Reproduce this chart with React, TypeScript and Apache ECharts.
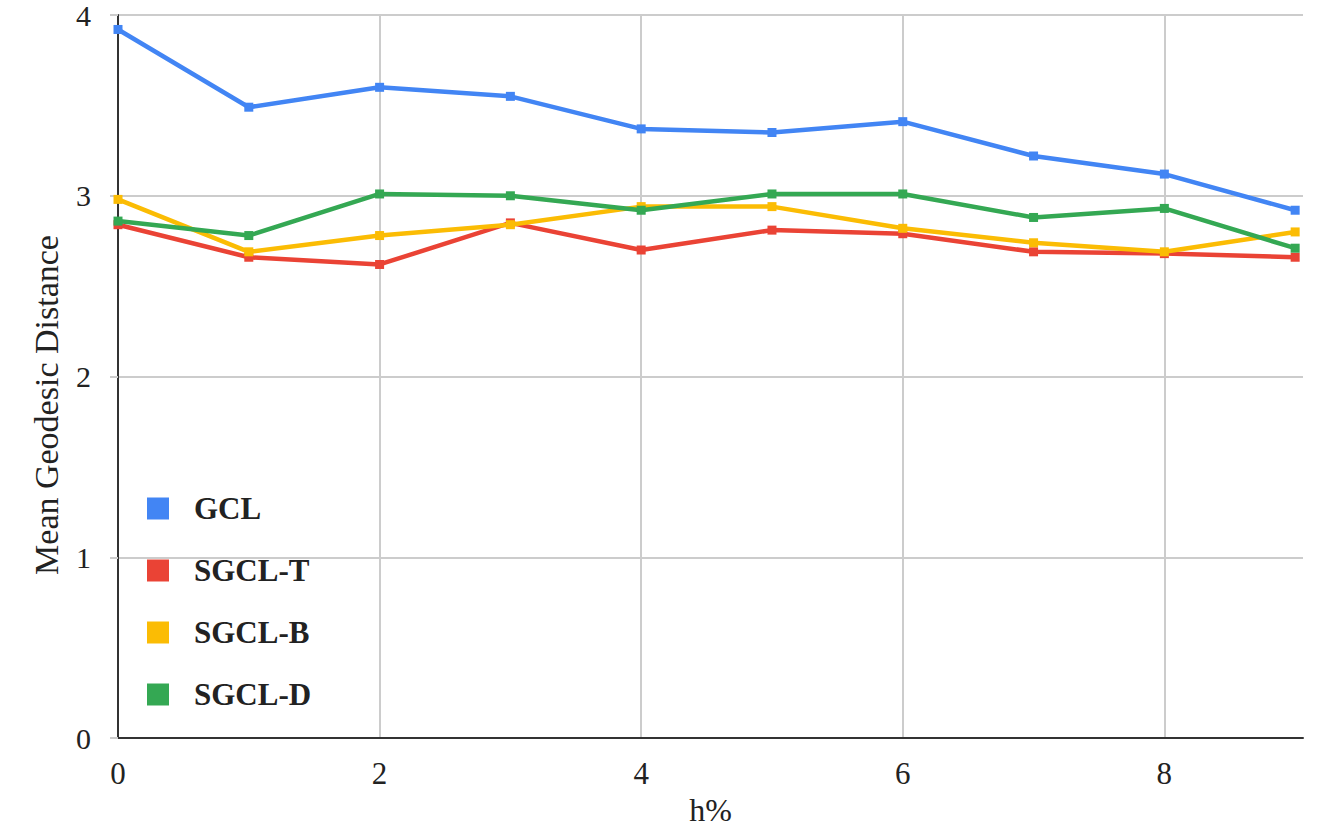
import React, { useEffect, useRef } from "react";
import * as echarts from "echarts";

const xValues = [0, 1, 2, 3, 4, 5, 6, 7, 8, 9];
const seriesNames = ["GCL", "SGCL-T", "SGCL-B", "SGCL-D"];
const gcl = [3.92, 3.49, 3.6, 3.55, 3.37, 3.35, 3.41, 3.22, 3.12, 2.92];
const sgclT = [2.84, 2.66, 2.62, 2.85, 2.7, 2.81, 2.79, 2.69, 2.68, 2.66];
const sgclB = [2.98, 2.69, 2.78, 2.84, 2.94, 2.94, 2.82, 2.74, 2.69, 2.8];
const sgclD = [2.86, 2.78, 3.01, 3.0, 2.92, 3.01, 3.01, 2.88, 2.93, 2.71];
const colors = ["#4285F4", "#EA4335", "#FBBC04", "#34A853"];
const yTitle = "Mean Geodesic Distance";
const xTitle = "h%";

const FONT = "Liberation Serif";

export default function App() {
  const ref = useRef<HTMLDivElement>(null);
  useEffect(() => {
    if (!ref.current) return;
    const chart = echarts.init(ref.current, undefined, { renderer: "svg" });
    const all = [gcl, sgclT, sgclB, sgclD];
    chart.setOption({
      animation: false,
      backgroundColor: "#ffffff",
      color: colors,
      textStyle: { fontFamily: FONT },
      grid: { left: 118, right: 25, top: 15, bottom: 91, containLabel: false },
      legend: {
        orient: "vertical",
        left: 142,
        top: 488,
        icon: "rect",
        itemWidth: 22,
        itemHeight: 22,
        itemGap: 31,
        data: seriesNames,
        textStyle: {
          fontFamily: FONT,
          fontSize: 31,
          fontWeight: "bold",
          color: "#222",
          padding: [0, 0, 0, 20],
          lineHeight: 22,
        },
      },
      xAxis: {
        type: "value",
        min: 0,
        max: 9.06,
        interval: 2,
        name: xTitle,
        nameLocation: "middle",
        nameGap: 48,
        nameTextStyle: { fontFamily: FONT, fontSize: 32, color: "#222" },
        axisLine: { show: true, onZero: false, lineStyle: { color: "#333", width: 2 } },
        axisTick: { show: false },
        axisLabel: {
          showMaxLabel: false,
          margin: 20,
          fontFamily: FONT,
          fontSize: 31,
          color: "#222",
        },
        splitLine: {
          show: true,
          showMinLine: false,
          showMaxLine: false,
          lineStyle: { color: "#cccccc", width: 2 },
        },
      },
      yAxis: {
        type: "value",
        min: 0,
        max: 4,
        interval: 1,
        axisLine: { show: true, onZero: false, lineStyle: { color: "#333", width: 2 } },
        axisTick: { show: true, length: 8, lineStyle: { color: "#cccccc", width: 2 } },
        axisLabel: {
          margin: 27,
          fontFamily: FONT,
          fontSize: 30,
          color: "#222",
          padding: [10, 0, 0, 0],
        },
        splitLine: { show: true, lineStyle: { color: "#cccccc", width: 2 } },
      },
      graphic: [
        {
          type: "text",
          x: 46,
          y: 405,
          rotation: Math.PI / 2,
          style: {
            text: yTitle,
            fontFamily: FONT,
            fontSize: 34,
            fill: "#222",
            textAlign: "center",
            textVerticalAlign: "middle",
          },
        },
      ],
      series: seriesNames.map((name, i) => ({
        name,
        type: "line",
        data: xValues.map((x, j) => [x, all[i][j]]),
        symbol: "rect",
        symbolSize: 9,
        showAllSymbol: true,
        lineStyle: { width: 4.5, color: colors[i] },
        itemStyle: { color: colors[i] },
        z: 2 + i,
      })),
    });
    return () => chart.dispose();
  }, []);
  return (
    <div
      ref={ref}
      style={{ position: "fixed", left: 0, top: 0, width: 1328, height: 831 }}
    />
  );
}
